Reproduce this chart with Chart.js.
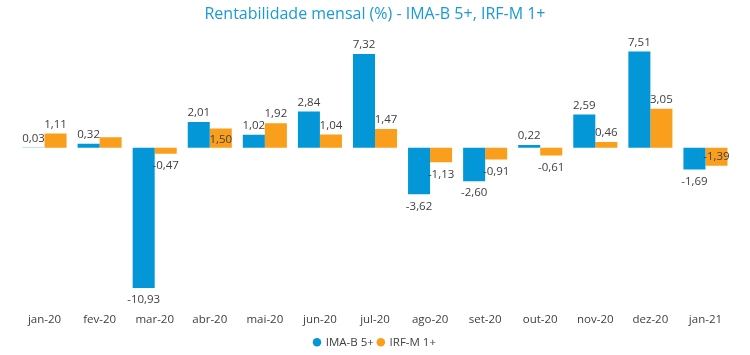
<!DOCTYPE html>
<html>
<head>
<meta charset="utf-8">
<script src="https://cdn.jsdelivr.net/npm/chart.js@4"></script>
<style>
html,body{margin:0;padding:0;background:#fff;}
#wrap{width:750px;height:355px;position:relative;}
</style>
</head>
<body>
<div id="wrap"><canvas id="c" width="750" height="355"></canvas></div>
<script>
const categories = ['jan-20','fev-20','mar-20','abr-20','mai-20','jun-20','jul-20','ago-20','set-20','out-20','nov-20','dez-20','jan-21'];
const imaB5 = [0.03, 0.32, -10.93, 2.01, 1.02, 2.84, 7.32, -3.62, -2.60, 0.22, 2.59, 7.51, -1.69];
const irfM1 = [1.11, 0.82, -0.47, 1.50, 1.92, 1.04, 1.47, -1.13, -0.91, -0.61, 0.46, 3.05, -1.39];
const seriesNames = ['IMA-B 5+', 'IRF-M 1+'];
const titleText = 'Rentabilidade mensal (%) - IMA-B 5+, IRF-M 1+';

const BLUE = '#0397D7';
const ORANGE = '#F99F1C';
const TEXT = '#404040';
const FONT = "'Open Sans', 'Noto Sans', sans-serif";

// label display rules (styling only)
const hiddenLabels = {1: [1]};        // dataset 1, index 1 has no label
const insideLabels = {1: [3, 12]};    // labels placed inside the bar end

const labelPlugin = {
  id: 'barLabels',
  afterDatasetsDraw(chart) {
    const ctx = chart.ctx;
    ctx.save();
    ctx.font = '11.5px ' + FONT;
    ctx.fillStyle = TEXT;
    ctx.textAlign = 'center';
    ctx.textBaseline = 'middle';
    chart.data.datasets.forEach((ds, di) => {
      const meta = chart.getDatasetMeta(di);
      meta.data.forEach((bar, i) => {
        if ((hiddenLabels[di] || []).includes(i)) return;
        const v = ds.data[i];
        const txt = v.toFixed(2).replace('.', ',');
        let y;
        const inside = (insideLabels[di] || []).includes(i);
        if (inside) {
          y = v >= 0 ? bar.y + 11 : bar.y - 9;
        } else {
          y = v >= 0 ? bar.y - 9 : bar.y + 12;
        }
        ctx.fillText(txt, bar.x, y);
      });
    });
    ctx.restore();
  }
};

new Chart(document.getElementById('c'), {
  type: 'bar',
  data: {
    labels: categories,
    datasets: [
      {label: seriesNames[0], data: imaB5, backgroundColor: BLUE, borderWidth: 0},
      {label: seriesNames[1], data: irfM1, backgroundColor: ORANGE, borderWidth: 0}
    ]
  },
  options: {
    responsive: false,
    animation: false,
    devicePixelRatio: 1,
    layout: {padding: {left: 17, right: 17, top: 0, bottom: -3}},
    datasets: {bar: {categoryPercentage: 0.8, barPercentage: 1.0}},
    scales: {
      x: {
        grid: {display: false, drawTicks: false},
        border: {display: false},
        ticks: {color: TEXT, font: {family: FONT, size: 11.5}, padding: 11, maxRotation: 0, autoSkip: false},
        afterFit(scale) {
          scale.height -= 5;
          scale._computeLabelArea = function () { return undefined; };
        }
      },
      y: {
        display: false,
        min: -12, max: 8
      }
    },
    plugins: {
      title: {
        display: true, text: titleText, color: '#1A9AD6',
        font: {family: FONT, size: 16, weight: 'normal'},
        padding: {top: 5, bottom: 21}
      },
      legend: {
        position: 'bottom',
        labels: {
          usePointStyle: true, pointStyle: 'circle', boxWidth: 6, boxHeight: 6,
          color: TEXT, font: {family: FONT, size: 11.5}, padding: 4
        }
      },
      tooltip: {enabled: false}
    }
  },
  plugins: [labelPlugin]
});
</script>
</body>
</html>
